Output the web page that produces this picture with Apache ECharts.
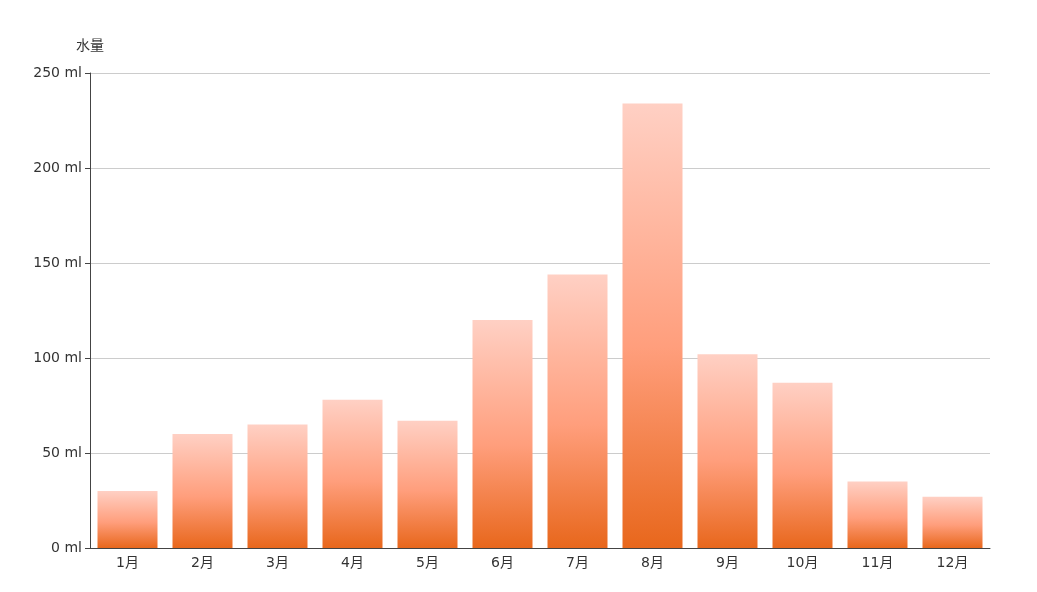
<!DOCTYPE html>
<html>
<head>
<meta charset="utf-8">
<script src="https://cdn.jsdelivr.net/npm/echarts@6/dist/echarts.min.js"></script>
<style>html,body{margin:0;padding:0;background:#fff;}#main{width:1037px;height:592px;}</style>
</head>
<body>
<div id="main"></div>
<script>
const categories = ['1月','2月','3月','4月','5月','6月','7月','8月','9月','10月','11月','12月'];
const waterValues = [30, 60, 65, 78, 67, 120, 144, 234, 102, 87, 35, 27];
const yTickUnit = 'ml';

const FONT = '"DejaVu Sans", "Noto Sans CJK SC", sans-serif';
const chart = echarts.init(document.getElementById('main'));
chart.setOption({
  animation: false,
  textStyle: { fontFamily: FONT },
  grid: { left: 90, right: 47, top: 73, bottom: 44, containLabel: false },
  xAxis: {
    type: 'category',
    data: categories,
    axisLine: { lineStyle: { color: '#444' } },
    axisTick: { lineStyle: { color: '#444' } },
    axisLabel: { color: '#333', fontSize: 14, fontFamily: FONT }
  },
  yAxis: {
    type: 'value',
    name: '水量',
    nameGap: 20,
    min: 0, max: 250, interval: 50,
    nameTextStyle: { color: '#333', fontSize: 14, fontFamily: FONT },
    axisLine: { show: true, lineStyle: { color: '#444' } },
    axisTick: { show: true, lineStyle: { color: '#444' } },
    axisLabel: { color: '#333', fontSize: 14, fontFamily: FONT, formatter: '{value} ' + yTickUnit },
    splitLine: { lineStyle: { color: '#ccc' } }
  },
  series: [{
    type: 'bar',
    data: waterValues,
    barWidth: '80%',
    itemStyle: {
      color: new echarts.graphic.LinearGradient(0, 0, 0, 1, [
        { offset: 0, color: '#ffd0c4' },
        { offset: 0.55, color: '#ff9e7c' },
        { offset: 1, color: '#e8671c' }
      ])
    }
  }]
});
</script>
</body>
</html>
